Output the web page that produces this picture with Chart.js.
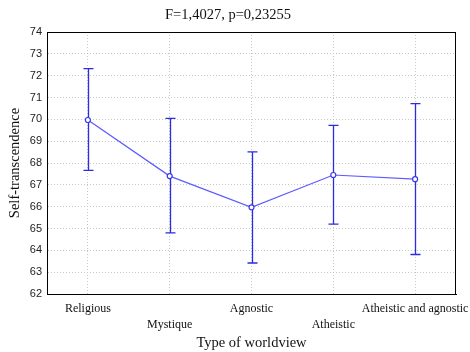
<!DOCTYPE html>
<html lang="en">
<head>
    <meta charset="UTF-8">
    <title>Self-transcendence by type of worldview</title>
    <script src="https://cdn.jsdelivr.net/npm/chart.js"></script>
    <style>
        body { margin: 0; background: #fff; }
        #chart { display: block; }
    </style>
</head>
<body>
    <canvas id="chart" width="470" height="352"></canvas>
    <script>
        // Data
        const worldviews = ["Religious", "Mystique", "Agnostic", "Atheistic", "Atheistic and agnostic"];
        const means = [69.97, 67.40, 65.97, 67.45, 67.26];
        const upper = [72.32, 70.04, 68.51, 69.72, 70.72];
        const lower = [67.66, 64.80, 63.42, 65.20, 63.81];
        const yTicks = [62, 63, 64, 65, 66, 67, 68, 69, 70, 71, 72, 73, 74];

        const serif = "'Liberation Serif', 'Times New Roman', serif";
        const sans = "'Liberation Sans', Arial, sans-serif";

        // Draws whiskers from the upper/lower arrays and a frame round the plot
        const errorBars = {
            id: 'errorBars',
            beforeDatasetsDraw(chart) {
                const { ctx, chartArea, scales: { x, y } } = chart;
                ctx.save();
                ctx.strokeStyle = '#000';
                ctx.lineWidth = 1;
                ctx.strokeRect(chartArea.left + 0.5, chartArea.top + 0.5,
                    chartArea.right - chartArea.left - 1, chartArea.bottom - chartArea.top);
                ctx.strokeStyle = '#2b2be0';
                ctx.lineWidth = 1.3;
                worldviews.forEach((w, i) => {
                    const px = Math.round(x.getPixelForValue(i)) + 0.5;
                    const top = y.getPixelForValue(upper[i]);
                    const bot = y.getPixelForValue(lower[i]);
                    ctx.beginPath();
                    ctx.moveTo(px, top); ctx.lineTo(px, bot);
                    ctx.moveTo(px - 5, top); ctx.lineTo(px + 5, top);
                    ctx.moveTo(px - 5, bot); ctx.lineTo(px + 5, bot);
                    ctx.stroke();
                });
                ctx.restore();
            }
        };

        new Chart(document.getElementById('chart'), {
            type: 'line',
            data: {
                labels: worldviews,
                datasets: [{
                    data: means,
                    borderColor: '#5c5cff',
                    borderWidth: 1.2,
                    pointRadius: 2.5,
                    pointBackgroundColor: '#fff',
                    pointBorderColor: '#3a3ae8',
                    pointBorderWidth: 1.2,
                    tension: 0
                }]
            },
            options: {
                responsive: false,
                animation: false,
                layout: { padding: { right: 14, bottom: 0 } },
                plugins: {
                    legend: { display: false },
                    tooltip: { enabled: false },
                    title: {
                        display: true,
                        text: 'F=1,4027, p=0,23255',
                        color: '#111',
                        font: { family: serif, size: 14.5, weight: 'normal' },
                        padding: { top: 6, bottom: 8.6 }
                    }
                },
                scales: {
                    x: {
                        offset: true,
                        grid: { color: '#c8c8c8', drawTicks: false, offset: false },
                        border: { color: '#000', dash: [1, 2] },
                        ticks: {
                            color: '#111',
                            font: { family: serif, size: 12, lineHeight: 1.3 },
                            padding: 7,
                            maxRotation: 0,
                            autoSkip: false,
                            callback: (v, i) => i % 2 ? ['', worldviews[i]] : [worldviews[i], '']
                        },
                        title: {
                            display: true,
                            text: 'Type of worldview',
                            color: '#111',
                            font: { family: serif, size: 14.5 },
                            padding: { top: 0, bottom: 0 }
                        },
                        afterFit: s => { s.height = 58; s.paddingLeft = 0; s.paddingRight = 0; }
                    },
                    y: {
                        min: 62,
                        max: 74,
                        afterBuildTicks: s => { s.ticks = yTicks.map(v => ({ value: v })); },
                        grid: { color: '#c8c8c8', drawTicks: false },
                        border: { color: '#000', dash: [1, 2] },
                        ticks: {
                            color: '#222',
                            font: { family: sans, size: 11 },
                            padding: 5
                        },
                        title: {
                            display: true,
                            text: 'Self-transcendence',
                            color: '#111',
                            font: { family: serif, size: 14.5 },
                            padding: { top: 6, bottom: 0 }
                        },
                        afterFit: s => { s.width = 47; }
                    }
                }
            },
            plugins: [errorBars]
        });
    </script>
</body>
</html>
